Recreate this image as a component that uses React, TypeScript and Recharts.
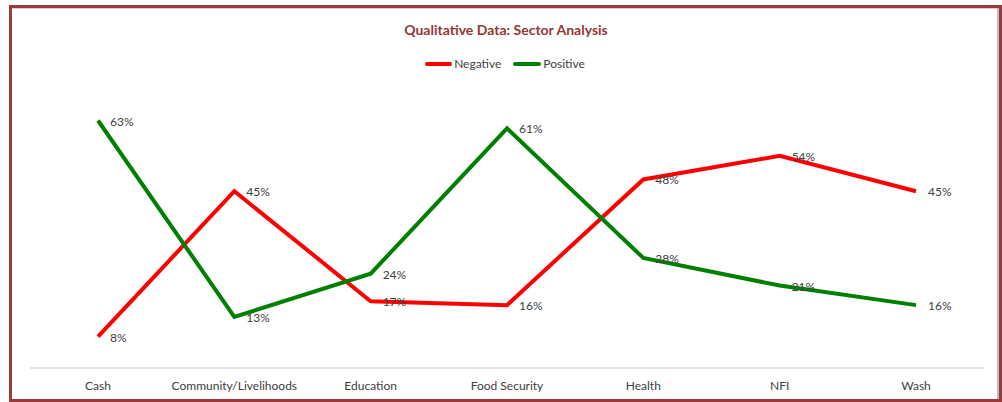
import React from "react";
import { LineChart, Line, XAxis, YAxis, Legend, LabelList } from "recharts";

const categories = ["Cash", "Community/Livelihoods", "Education", "Food Security", "Health", "NFI", "Wash"];
const negativeValues = [8, 45, 17, 16, 48, 54, 45];
const positiveValues = [63, 13, 24, 61, 28, 21, 16];

const data = categories.map((c, i) => ({ name: c, Negative: negativeValues[i], Positive: positiveValues[i] }));

const FONT = 'Lato, "Open Sans", sans-serif';

const renderLabel = (props: any) => {
  const { x, y, value } = props;
  return (
    <text x={x + 12} y={y + 5} fontSize={12} fill="#404040" fontFamily={FONT}>
      {value}%
    </text>
  );
};

const LegendContent = () => (
  <div style={{ display: "flex", justifyContent: "center", alignItems: "center", fontFamily: FONT, fontSize: 12, color: "#404040" }}>
    <span style={{ display: "inline-block", width: 27, height: 4, borderRadius: 2, background: "#FF0000", marginRight: 2 }} />
    <span style={{ marginRight: 12 }}>Negative</span>
    <span style={{ display: "inline-block", width: 28, height: 4, borderRadius: 2, background: "#008000", marginRight: 2 }} />
    <span>Positive</span>
  </div>
);

export default function App() {
  return (
    <div style={{ position: "absolute", left: 0, top: 0, width: 1002, height: 402, background: "#fff" }}>
      <div
        style={{
          position: "absolute",
          left: 9,
          top: 5,
          width: 993,
          height: 397,
          boxSizing: "border-box",
          border: "3px solid #9B3A3A",
          boxShadow: "inset -2px 0 0 #bdbdbd, inset 0 1px 0 #d0d0d0",
        }}
      />
      <div
        style={{
          position: "absolute",
          left: 0,
          top: 21,
          width: 1012,
          textAlign: "center",
          fontFamily: FONT,
          fontWeight: 700,
          fontSize: 14,
          color: "#953735",
        }}
      >
        Qualitative Data: Sector Analysis
      </div>
      <div style={{ position: "absolute", left: 0, top: 0 }}>
        <LineChart width={1002} height={402} data={data} margin={{ top: 93, right: 18, bottom: 4, left: 30 }}>
          <XAxis
            dataKey="name"
            padding={{ left: 68, right: 68 }}
            tickSize={0}
            tickMargin={13}
            height={30}
            axisLine={{ stroke: "#D9D9D9", strokeWidth: 1.5 }}
            tick={{ fill: "#404040", fontSize: 12, fontFamily: FONT }}
            interval={0}
          />
          <YAxis hide domain={[0, 70]} />
          <Legend
            verticalAlign="middle"
            layout="horizontal"
            content={<LegendContent />}
            wrapperStyle={{ position: "absolute", top: 56, left: 4, width: 1002 }}
          />
          <Line type="linear" dataKey="Negative" stroke="#FF0000" strokeWidth={4} dot={false} isAnimationActive={false}>
            <LabelList dataKey="Negative" content={renderLabel} />
          </Line>
          <Line type="linear" dataKey="Positive" stroke="#008000" strokeWidth={4} dot={false} isAnimationActive={false}>
            <LabelList dataKey="Positive" content={renderLabel} />
          </Line>
        </LineChart>
      </div>
    </div>
  );
}
